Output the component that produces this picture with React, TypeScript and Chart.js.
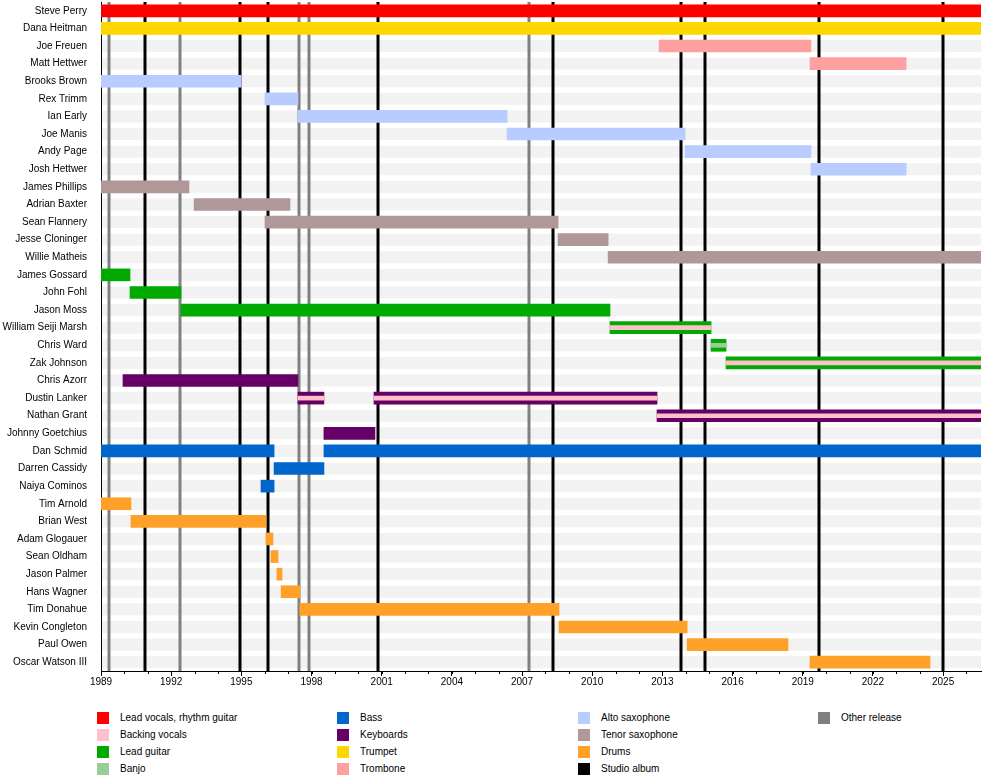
import React, { useEffect, useRef } from "react";
import { Chart, registerables } from "chart.js";
Chart.register(...registerables);

const members = ["Steve Perry","Dana Heitman","Joe Freuen","Matt Hettwer","Brooks Brown","Rex Trimm","Ian Early","Joe Manis","Andy Page","Josh Hettwer","James Phillips","Adrian Baxter","Sean Flannery","Jesse Cloninger","Willie Matheis","James Gossard","John Fohl","Jason Moss","William Seiji Marsh","Chris Ward","Zak Johnson","Chris Azorr","Dustin Lanker","Nathan Grant","Johnny Goetchius","Dan Schmid","Darren Cassidy","Naiya Cominos","Tim Arnold","Brian West","Adam Glogauer","Sean Oldham","Jason Palmer","Hans Wagner","Tim Donahue","Kevin Congleton","Paul Owen","Oscar Watson III"];

const END = 2026.62;
const periodMember = ["Steve Perry","Dana Heitman","Joe Freuen","Matt Hettwer","Brooks Brown","Rex Trimm","Ian Early","Joe Manis","Andy Page","Josh Hettwer","James Phillips","Adrian Baxter","Sean Flannery","Jesse Cloninger","Willie Matheis","James Gossard","John Fohl","Jason Moss","William Seiji Marsh","Chris Ward","Zak Johnson","Chris Azorr","Dustin Lanker","Dustin Lanker","Nathan Grant","Johnny Goetchius","Dan Schmid","Dan Schmid","Darren Cassidy","Naiya Cominos","Tim Arnold","Brian West","Adam Glogauer","Sean Oldham","Jason Palmer","Hans Wagner","Tim Donahue","Kevin Congleton","Paul Owen","Oscar Watson III"];
const periodStart = [1989,1989,2012.86,2019.31,1989,1996.01,1997.42,2006.36,2013.97,2019.35,1989,1992.98,1996.01,2008.54,2010.68,1989,1990.24,1992.42,2010.76,2015.08,2015.72,1989.94,1997.42,2000.67,2012.77,1998.53,1989,1998.53,1996.4,1995.84,1989,1990.28,1996.05,1996.27,1996.52,1996.7,1997.5,2008.58,2014.06,2019.31];
const periodEnd = [END,END,2019.35,2023.42,1994.99,1997.42,2006.36,2013.97,2019.35,2023.42,1992.76,1997.08,2008.54,2010.68,END,1990.24,1992.42,2010.76,2015.08,2015.72,END,1997.42,1998.53,2012.77,END,2000.71,1996.4,END,1998.53,1996.4,1990.28,1996.05,1996.35,1996.57,1996.74,1997.5,2008.58,2014.06,2018.37,2024.44];
const periodRole = ["vocals","trumpet","trombone","trombone","alto","alto","alto","alto","alto","alto","tenor","tenor","tenor","tenor","tenor","guitar","guitar","guitar","guitar","guitar","guitar","keys","keys","keys","keys","keys","bass","bass","bass","bass","drums","drums","drums","drums","drums","drums","drums","drums","drums","drums"];
const periodInner = ["","","","","","","","","","","","","","","","","","","backing","banjo","backing","","backing","backing","backing","","","","","","","","","","","","","","",""];

const studioAlbums = [1990.88,1994.94,1996.14,2000.84,2008.32,2013.8,2014.82,2019.7,2025.0];
const otherReleases = [1989.34,1992.38,1997.47,1997.9,2007.3];
const xTicks = [1989,1992,1995,1998,2001,2004,2007,2010,2013,2016,2019,2022,2025];

const roleColors: Record<string,string> = {
  vocals:"#ff0000", backing:"#ffc0cb", guitar:"#00aa00", banjo:"#99cc99",
  bass:"#0066cc", keys:"#660066", trumpet:"#ffd700", trombone:"#ffa0a0",
  alto:"#b8ccff", tenor:"#b09898", drums:"#ffa028", studio:"#000000", other:"#808080",
};
const legendItems: [string,string][] = [
  ["Lead vocals, rhythm guitar","vocals"],["Backing vocals","backing"],["Lead guitar","guitar"],["Banjo","banjo"],
  ["Bass","bass"],["Keyboards","keys"],["Trumpet","trumpet"],["Trombone","trombone"],
  ["Alto saxophone","alto"],["Tenor saxophone","tenor"],["Drums","drums"],["Studio album","studio"],
  ["Other release","other"],
];

const FONT = "'Liberation Sans', Arial, sans-serif";

export default function App() {
  const ref = useRef<HTMLCanvasElement>(null);
  useEffect(() => {
    const bg = {
      id: "bg",
      beforeDatasetsDraw(chart: any) {
        const { ctx, chartArea: a, scales } = chart;
        const y = scales.y, x = scales.x;
        ctx.save();
        ctx.fillStyle = "#f2f2f2";
        members.forEach((_, i) => {
          const c = y.getPixelForValue(i);
          ctx.fillRect(a.left + 1, c - 6, a.right - a.left - 1, 12);
        });
        const line = (v: number, col: string) => {
          const px = Math.round(x.getPixelForValue(v));
          ctx.fillStyle = col;
          ctx.fillRect(px - 1.5, a.top, 3, a.bottom - a.top);
        };
        otherReleases.forEach(v => line(v, roleColors.other));
        studioAlbums.forEach(v => line(v, roleColors.studio));
        ctx.strokeStyle = "#000"; ctx.lineWidth = 1;
        ctx.beginPath();
        for (let yr = 1989; yr <= END; yr++) {
          const px = Math.round(x.getPixelForValue(yr)) + 0.5;
          ctx.moveTo(px, a.bottom); ctx.lineTo(px, a.bottom + 3);
        }
        ctx.stroke();
        ctx.restore();
      },
    };
    const innerIdx = periodInner.map((r, i) => (r ? i : -1)).filter(i => i >= 0);
    const chart = new Chart(ref.current!, {
      type: "bar",
      data: {
        labels: members,
        datasets: [
          {
            data: innerIdx.map(i => ({ y: periodMember[i], x: [periodStart[i], periodEnd[i]] })) as any,
            backgroundColor: innerIdx.map(i => roleColors[periodInner[i]]),
            barThickness: 4, grouped: false, order: 1,
          },
          {
            data: periodMember.map((m, i) => ({ y: m, x: [periodStart[i], periodEnd[i]] })) as any,
            backgroundColor: periodRole.map(r => roleColors[r]),
            barThickness: 12, grouped: false, order: 2,
          },
        ],
      },
      options: {
        indexAxis: "y", animation: false, responsive: false,
        layout: { padding: { right: 19, top: 0 } },
        plugins: { legend: { display: false }, tooltip: { enabled: false } },
        scales: {
          x: {
            type: "linear", min: 1989, max: END,
            afterBuildTicks: (s: any) => { s.ticks = xTicks.map(v => ({ value: v })); },
            ticks: { color: "#000", font: { family: FONT, size: 10 }, padding: 0, maxRotation: 0,
              callback: (v: any) => String(v) },
            grid: { drawOnChartArea: false, color: "#000", tickLength: 5 },
            border: { color: "#000" },
          },
          y: {
            afterFit: (s: any) => { s.width = 101; },
            ticks: { color: "#000", font: { family: FONT, size: 10 }, padding: 6, autoSkip: false },
            grid: { display: false },
            border: { color: "#000" },
          },
        },
      },
      plugins: [bg],
    } as any);
    return () => chart.destroy();
  }, []);
  return (
    <div style={{ position: "absolute", left: 0, top: 0, width: 1000, height: 776, background: "#fff", fontFamily: FONT, overflow: "hidden" }}>
      <canvas ref={ref} width={1000} height={698} style={{ display: "block", position: "absolute", left: 0, top: -10 }} />
      <div style={{ position: "absolute", left: 97, top: 709, display: "grid", gridTemplateRows: "repeat(4, 17px)", gridAutoFlow: "column", gridTemplateColumns: "240px 241px 240px 160px", fontSize: 10, color: "#000" }}>
        {legendItems.map(([t, r]) => (
          <div key={t} style={{ display: "flex", alignItems: "center" }}>
            <span style={{ width: 12, height: 12, background: roleColors[r], display: "inline-block", marginRight: 11 }} />
            {t}
          </div>
        ))}
      </div>
    </div>
  );
}
